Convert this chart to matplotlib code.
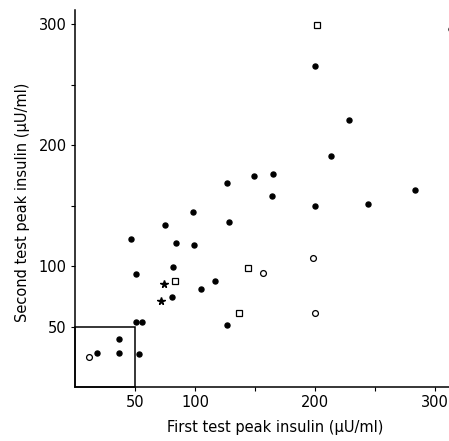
import matplotlib
matplotlib.use("Agg")
import matplotlib.pyplot as plt
from matplotlib.patches import Rectangle

# Data (first test vs second test peak insulin, µU/ml)
filled_x = [200, 228, 213, 127, 149, 165, 164, 98, 75, 128, 47, 84, 99, 200, 244, 283,
            82, 51, 117, 105, 81, 127, 51, 56, 37, 37, 18, 53, 313]
filled_y = [265, 221, 191, 169, 174, 176, 158, 145, 134, 136, 122, 119, 117, 150, 151, 163,
            99, 93, 88, 81, 74, 51, 54, 54, 40, 28, 28, 27, 296]
open_x = [198, 157, 200, 12]
open_y = [107, 94, 61, 25]
square_x = [202, 144, 83, 137]
square_y = [299, 98, 88, 61]
star_x = [74, 72]
star_y = [85, 71]

major_ticks = [50, 100, 200, 300]
minor_ticks = [150, 250]
tick_labels = ["50", "100", "200", "300"]

fig = plt.figure(figsize=(4.49, 4.41), dpi=100)
ax = fig.add_axes([75/449, 1-387/441, (449-75)/449, (387-10)/441])

ax.set_xlim(0, 311.7)
ax.set_ylim(0, 311.6)

ax.plot(filled_x, filled_y, 'o', ms=3.6, color='black', mec='black', linestyle='none')
ax.plot(open_x, open_y, 'o', ms=4.2, mfc='white', mec='black', mew=0.9, linestyle='none')
ax.plot(square_x, square_y, 's', ms=4.2, mfc='white', mec='black', mew=0.9, linestyle='none')
ax.plot(star_x, star_y, '*', ms=5.5, color='black', linestyle='none')

ax.add_patch(Rectangle((0, 0), 50, 50, fill=False, edgecolor='black', lw=1.1, clip_on=False))

for s in ['top', 'right']:
    ax.spines[s].set_visible(False)
for s in ['left', 'bottom']:
    ax.spines[s].set_linewidth(1.1)

ax.set_xticks(major_ticks)
ax.set_xticklabels(tick_labels)
ax.set_yticks(major_ticks)
ax.set_yticklabels(tick_labels)
ax.set_xticks(minor_ticks, minor=True)
ax.set_yticks(minor_ticks, minor=True)
ax.tick_params(which='both', direction='out', length=3, width=0.8, labelsize=10.5, pad=3)

ax.set_xlabel("First test peak insulin (µU/ml)", fontsize=10.5)
ax.set_ylabel("Second test peak insulin (µU/ml)", fontsize=10.5)
ax.xaxis.set_label_coords(0.535, -0.088)
ax.yaxis.set_label_coords(-0.12, 0.49)

fig.savefig("out.png", dpi=100)
